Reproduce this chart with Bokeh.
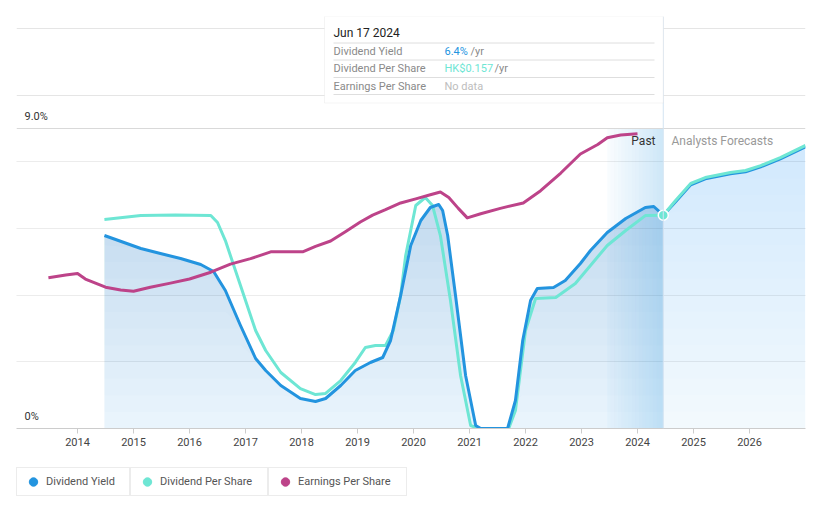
from bokeh.plotting import figure
from bokeh.layouts import column
from bokeh.models import (Range1d, FixedTicker, Span, BoxAnnotation, Label,
                          Legend, LegendItem, Grid)
from bokeh.embed import file_html
from bokeh.resources import INLINE
import numpy as np

# ---------------- data ----------------
YEAR_TICKS = list(range(2014, 2027))
CURRENT_DATE = 2024.46
CURRENT_LABEL = "Jun 17 2024"
YIELD_NOW = 6.4
DPS_NOW = 0.157
Y_TOP = 9.0

yield_years = [2014.48, 2015.13, 2015.48, 2015.84, 2016.20, 2016.43, 2016.64, 2016.91, 2017.18, 2017.36,
               2017.63, 2017.98, 2018.25, 2018.43, 2018.70, 2018.96, 2019.23, 2019.45, 2019.59, 2019.77,
               2019.95, 2020.13, 2020.30, 2020.45, 2020.52, 2020.61, 2020.75, 2020.93, 2021.11, 2021.20,
               2021.68, 2021.82, 2021.95, 2022.09, 2022.21, 2022.50, 2022.71, 2022.98, 2023.16, 2023.46,
               2023.79, 2024.14, 2024.29, 2024.46]
yield_pct = [5.79, 5.40, 5.25, 5.10, 4.92, 4.71, 4.14, 3.09, 2.10, 1.74,
             1.29, 0.90, 0.81, 0.90, 1.29, 1.74, 1.98, 2.13, 2.64, 3.99,
             5.49, 6.24, 6.63, 6.72, 6.54, 5.79, 3.99, 1.59, 0.09, 0.0,
             0.0, 0.84, 2.64, 3.84, 4.20, 4.23, 4.44, 4.95, 5.34, 5.88,
             6.30, 6.63, 6.66, 6.40]

dps_years = [2014.48, 2015.13, 2015.75, 2016.38, 2016.50, 2016.64, 2016.91, 2017.18, 2017.36, 2017.63,
             2017.98, 2018.25, 2018.43, 2018.70, 2018.96, 2019.14, 2019.32, 2019.50, 2019.64, 2019.77,
             2019.86, 2020.04, 2020.21, 2020.34, 2020.48, 2020.66, 2020.84, 2021.02, 2021.16, 2021.70,
             2021.82, 2022.00, 2022.18, 2022.54, 2022.89, 2023.16, 2023.46, 2023.79, 2024.14, 2024.46]
dps_hkd = [0.1538, 0.1567, 0.1571, 0.1567, 0.1516, 0.1383, 0.1052, 0.0721, 0.0574, 0.0412,
           0.0294, 0.0250, 0.0258, 0.0353, 0.0486, 0.0596, 0.0611, 0.0611, 0.0721, 0.0979,
           0.1273, 0.1641, 0.1700, 0.1641, 0.1420, 0.0942, 0.0390, 0.0022, 0.0, 0.0,
           0.0132, 0.0721, 0.0957, 0.0964, 0.1067, 0.1200, 0.1347, 0.1457, 0.1567, 0.1570]

fc_years = [2024.46, 2024.68, 2024.95, 2025.21, 2025.66, 2025.93, 2026.20, 2026.55, 2027.00]
fc_yield_pct = [6.40, 6.80, 7.31, 7.49, 7.64, 7.70, 7.85, 8.09, 8.45]
fc_dps_hkd = [0.1570, 0.1678, 0.1803, 0.1847, 0.1884, 0.1899, 0.1935, 0.1994, 0.2083]

eps_years = [2013.48, 2013.79, 2014.00, 2014.14, 2014.32, 2014.50, 2014.77, 2015.00, 2015.30, 2015.66,
             2016.00, 2016.38, 2016.73, 2017.09, 2017.45, 2018.02, 2018.25, 2018.52, 2018.79, 2019.05,
             2019.27, 2019.50, 2019.77, 2020.04, 2020.30, 2020.48, 2020.63, 2020.80, 2020.96, 2021.20,
             2021.55, 2021.96, 2022.27, 2022.63, 2022.98, 2023.29, 2023.46, 2023.70, 2024.00]
eps_hkd = [0.111, 0.113, 0.114, 0.110, 0.107, 0.104, 0.102, 0.101, 0.104, 0.107,
           0.110, 0.115, 0.121, 0.125, 0.130, 0.130, 0.134, 0.138, 0.145, 0.152,
           0.157, 0.161, 0.166, 0.169, 0.172, 0.174, 0.170, 0.162, 0.155, 0.158,
           0.162, 0.166, 0.175, 0.188, 0.202, 0.209, 0.214, 0.216, 0.217]

SERIES_NAMES = ["Dividend Yield", "Dividend Per Share", "Earnings Per Share"]

# ---------------- style / layout ----------------
BLUE = "#2394df"
CYAN = "#6ee6d4"
MAGENTA = "#bd4389"
FONT = "Roboto"

X_START, X_END = 2012.91, 2027.0
Y_END = 12.36
L, R, T, B = 16, 8, 16, 32
FRAME_W, FRAME_H = 789, 412
W, H = L + FRAME_W + R, T + FRAME_H + B


def px_x(px):
    return X_START + (px - L) / FRAME_W * (X_END - X_START)


def px_y(py):
    return Y_END - (py - T) / FRAME_H * Y_END


p = figure(width=W, height=H, output_backend="svg", toolbar_location=None,
           x_range=Range1d(X_START, X_END), y_range=Range1d(0, Y_END),
           y_axis_location=None, title=None,
           min_border_left=L, min_border_right=R, min_border_top=T, min_border_bottom=B)
p.extra_y_ranges = {"hkd": Range1d(0, Y_END * DPS_NOW / YIELD_NOW)}
p.outline_line_color = None
p.background_fill_color = "white"
p.border_fill_color = "white"
p.xgrid.visible = False

p.add_layout(Grid(dimension=1, ticker=FixedTicker(ticks=[2, 4, 6, 8]),
                  grid_line_color="#ececec", grid_line_width=1))
p.add_layout(Span(location=Y_TOP, dimension="width", line_color="#d9d9d9", line_width=1))

ax = p.xaxis[0]
ax.ticker = FixedTicker(ticks=YEAR_TICKS)
ax.axis_line_color = "#cccccc"
ax.major_tick_line_color = "#cccccc"
ax.major_tick_in = 0
ax.major_tick_out = 5
ax.minor_tick_line_color = None
ax.major_label_text_font = FONT
ax.major_label_text_font_size = "11px"
ax.major_label_text_color = "#444444"
ax.major_label_standoff = 4


# vertical-gradient fills under the yield curve (stacked thin layers)
def gradient_fill(xs, ys, base_alpha, top_alpha, top_level=8.5, step=0.5):
    ys = np.asarray(ys, dtype=float)
    p.varea(x=xs, y1=0, y2=ys, fill_color=BLUE, fill_alpha=base_alpha)
    levels = np.arange(step, top_level + 1e-9, step)
    b = 1 - ((1 - top_alpha) / (1 - base_alpha)) ** (1.0 / len(levels))
    for lo in levels:
        p.varea(x=xs, y1=np.minimum(ys, lo), y2=ys, fill_color=BLUE, fill_alpha=b)


gradient_fill(yield_years, yield_pct, 0.10, 0.30)
gradient_fill(fc_years, fc_yield_pct, 0.06, 0.17)

# past band gradient
N = 16
edges = np.linspace(CURRENT_DATE - 1, CURRENT_DATE, N + 1)
alphas = list(np.linspace(0.03, 0.22, N))
p.quad(left=edges[:-1], right=edges[1:], bottom=0, top=Y_TOP,
       fill_color=BLUE, fill_alpha=alphas, line_color=None)

# lines
p.line(dps_years, dps_hkd, y_range_name="hkd", line_color=CYAN, line_width=3, line_join="round")
p.line(yield_years, yield_pct, line_color=BLUE, line_width=3, line_join="round")
p.line(eps_years, eps_hkd, y_range_name="hkd", line_color=MAGENTA, line_width=3, line_join="round")
p.line(fc_years, fc_yield_pct, line_color=BLUE, line_width=3, line_join="round")
p.line(fc_years, fc_dps_hkd, y_range_name="hkd", line_color=CYAN, line_width=3, line_join="round")
p.scatter([CURRENT_DATE], [DPS_NOW], y_range_name="hkd", size=10,
          fill_color=CYAN, line_color="white", line_width=1.5)

# y labels
p.add_layout(Label(x=px_x(24), y=px_y(116), text=f"{Y_TOP:.1f}%", text_font=FONT,
                   text_font_size="11px", text_color="#333333", text_baseline="middle"))
p.add_layout(Label(x=px_x(24), y=px_y(416), text="0%", text_font=FONT,
                   text_font_size="11px", text_color="#333333", text_baseline="middle"))

# past / forecast labels
p.add_layout(Label(x=px_x(655), y=px_y(140), text="Past", text_font=FONT, text_align="right",
                   text_font_size="12px", text_color="#333333", text_baseline="middle"))
p.add_layout(Label(x=px_x(671), y=px_y(140), text="Analysts Forecasts", text_font=FONT,
                   text_font_size="12px", text_color="#999999", text_baseline="middle"))

# current marker line
p.add_layout(Span(location=CURRENT_DATE, dimension="height", line_color="#d3e4f3", line_width=1))

# tooltip
p.add_layout(BoxAnnotation(left=px_x(324), right=CURRENT_DATE, top=Y_END, bottom=px_y(102.5),
                           fill_color="white", fill_alpha=1, line_color="#dcdcdc", line_width=1))
sep_y = [px_y(v) for v in (42.5, 59.5, 77.0, 94.0)]
sr = p.segment(x0=px_x(333), x1=px_x(654), y0=sep_y, y1=sep_y, line_color="#dedede", line_width=1)
sr.level = "overlay"


def tip_text(px, py, text, color, size="11px"):
    p.add_layout(Label(x=px_x(px), y=px_y(py), text=text, text_font=FONT, text_font_size=size,
                       text_color=color, text_baseline="middle"))


tip_text(333, 32.5, CURRENT_LABEL, "#222222", "12px")
tip_text(333, 51, SERIES_NAMES[0], "#8a8a8a")
tip_text(333, 68, SERIES_NAMES[1], "#8a8a8a")
tip_text(333, 85.5, SERIES_NAMES[2], "#8a8a8a")
tip_text(444, 51, f"{YIELD_NOW}%", BLUE)
tip_text(470, 51, "/yr", "#8a8a8a")
tip_text(444, 68, f"HK${DPS_NOW}", CYAN)
tip_text(494, 68, "/yr", "#8a8a8a")
tip_text(444, 85.5, "No data", "#bdbdbd")

# ---------------- legend row ----------------
LH = 40
lf = figure(width=W, height=LH, output_backend="svg", toolbar_location=None,
            x_range=Range1d(0, 1), y_range=Range1d(0, 1),
            x_axis_location=None, y_axis_location=None, title=None,
            min_border_left=L, min_border_right=R, min_border_top=0, min_border_bottom=0)
lf.outline_line_color = None
lf.xgrid.visible = False
lf.ygrid.visible = False
lf.background_fill_color = "white"
lf.border_fill_color = "white"

leg_specs = [(SERIES_NAMES[0], BLUE, 0, 80), (SERIES_NAMES[1], CYAN, 114, 104),
             (SERIES_NAMES[2], MAGENTA, 252, 105)]
for label, color, xoff, lw in leg_specs:
    # placeholder point outside the visible range: only its legend swatch is shown
    r = lf.scatter(x=[-5], y=[-5], size=9, fill_color=color, line_color=color)
    lg = Legend(items=[LegendItem(label=label, renderers=[r])], location=(xoff, 4),
                orientation="horizontal", padding=3, spacing=0, margin=0,
                glyph_width=26, glyph_height=21, label_standoff=-3, label_width=lw, label_height=21,
                label_text_font=FONT, label_text_font_size="11px", label_text_color="#555555",
                border_line_color="#d9d9d9", border_line_width=1,
                background_fill_color="white", background_fill_alpha=1)
    lf.add_layout(lg, "center")

layout = column(p, lf, spacing=0)
open("out.html", "w").write(file_html(layout, INLINE))
